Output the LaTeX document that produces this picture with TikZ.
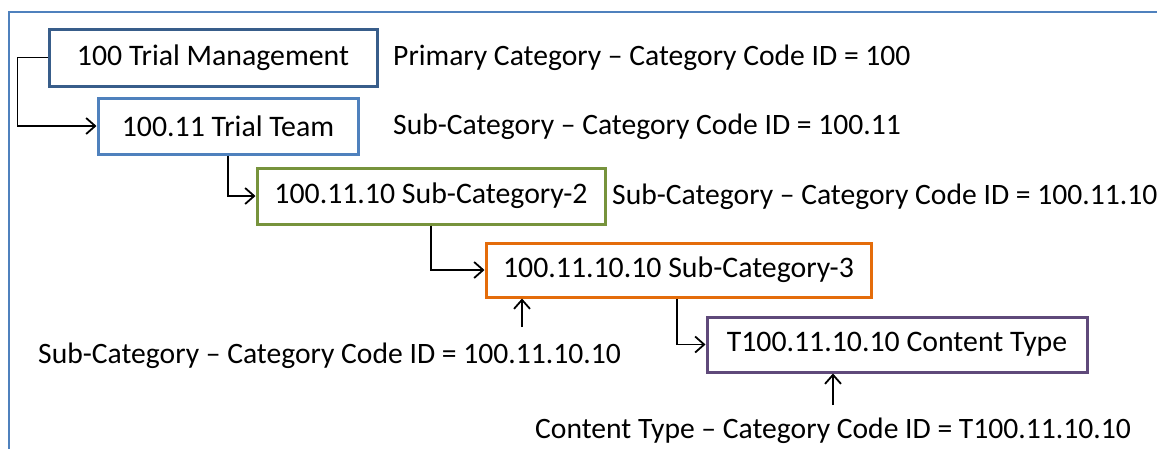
\documentclass[tikz,border=0pt]{standalone}
\usepackage{fontspec}
\setmainfont{Carlito}
\usetikzlibrary{arrows.meta,calc}
\definecolor{frameblue}{HTML}{4F81BD}
\definecolor{boxA}{HTML}{385D8A}
\definecolor{boxB}{HTML}{4F81BD}
\definecolor{boxC}{HTML}{77933C}
\definecolor{boxD}{HTML}{E46C0A}
\definecolor{boxE}{HTML}{5F497A}
\begin{document}
\begin{tikzpicture}[x=1pt,y=-1pt,
  catbox/.style={draw, line width=3pt, inner sep=0pt, fill=white, font=\fontsize{29.8}{35}\selectfont},
  lbl/.style={anchor=west, inner sep=0pt, font=\fontsize{29.6}{35}\selectfont},
  conn/.style={line width=1.8pt, -{Straight Barb[length=9pt,width=16pt,line width=1.8pt]}}]
\useasboundingbox (0,0) rectangle (1157,448);
\fill[white] (0,0) rectangle (1157,448);
\draw[frameblue, line width=2pt] (1160,12) -- (9,12) -- (9,451);

\node[catbox, draw=boxA, minimum width=328pt, minimum height=57pt] (b1) at (213,57.5) {100 Trial Management};
\node[catbox, draw=boxB, minimum width=260pt, minimum height=56pt] (b2) at (228,126) {100.11 Trial Team};
\node[catbox, draw=boxC, minimum width=348pt, minimum height=56pt] (b3) at (431,196) {100.11.10 Sub-Category-2};
\node[catbox, draw=boxD, minimum width=385pt, minimum height=54pt] (b4) at (678.5,270) {100.11.10.10 Sub-Category-3};
\node[catbox, draw=boxE, minimum width=380pt, minimum height=55pt] (b5) at (897,344.5) {T100.11.10.10 Content Type};

\node[lbl] (l1) at (393,58) {Primary Category – Category Code ID = 100};
\node[lbl] (l2) at (393,127) {Sub-Category – Category Code ID = 100.11};
\node[lbl] (l3) at (612,197) {Sub-Category – Category Code ID = 100.11.10};
\node[lbl] (l4) at (38,356) {Sub-Category – Category Code ID = 100.11.10.10};
\node[lbl] (l5) at (535,431) {Content Type – Category Code ID = T100.11.10.10};

\draw[conn] (b1.west) -- ++(-30,0) |- (b2.west);
\draw[conn] (b2.south) |- (b3.west);
\draw[conn] (b3.south) |- (b4.west);
\draw[conn] (b4.south -| 677,0) |- (b5.west);

\coordinate (a4) at (522,327);
\coordinate (a5) at (833,405);
\draw[conn] (a4) -- (a4 |- b4.south);
\draw[conn] (a5) -- (a5 |- b5.south);
\end{tikzpicture}
\end{document}
